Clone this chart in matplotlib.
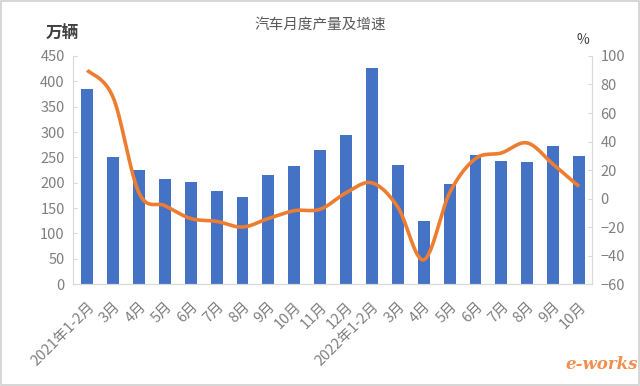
import numpy as np
import matplotlib
matplotlib.use("Agg")
import matplotlib.pyplot as plt
from matplotlib.patches import Rectangle

plt.rcParams['font.family'] = ['Noto Sans CJK SC', 'DejaVu Sans']

categories = ["2021年1-2月", "3月", "4月", "5月", "6月", "7月", "8月", "9月", "10月", "11月", "12月",
              "2022年1-2月", "3月", "4月", "5月", "6月", "7月", "8月", "9月", "10月"]
production = [384, 250, 225, 207, 201, 183, 171, 216, 232, 265, 294,
              426, 235, 125, 197, 254, 242, 240, 273, 253]
growth = [90, 71, 4, -5, -14, -16, -20, -14, -8.5, -7.5, 4,
          11, -6, -43, 4, 28, 32, 39, 24, 8.5]
left_ticks = [0, 50, 100, 150, 200, 250, 300, 350, 400, 450]
right_ticks = [-60, -40, -20, 0, 20, 40, 60, 80, 100]

BAR = "#4472C4"
LINE = "#ED7D31"
GRAY = "#7F7F7F"
AXC = "#D9D9D9"


def smooth(xs, ys, n=30):
    # Catmull-Rom style Bezier smoothing (like Excel's smoothed line)
    xs = np.asarray(xs, float)
    ys = np.asarray(ys, float)
    px = np.concatenate([[xs[0]], xs, [xs[-1]]])
    py = np.concatenate([[ys[0]], ys, [ys[-1]]])
    outx, outy = [], []
    t = np.linspace(0, 1, n)
    for i in range(1, len(px) - 2):
        p0 = np.array([px[i - 1], py[i - 1]])
        p1 = np.array([px[i], py[i]])
        p2 = np.array([px[i + 1], py[i + 1]])
        p3 = np.array([px[i + 2], py[i + 2]])
        c1 = p1 + (p2 - p0) / 6
        c2 = p2 - (p3 - p1) / 6
        b = ((1 - t) ** 3)[:, None] * p1 + (3 * (1 - t) ** 2 * t)[:, None] * c1 + \
            (3 * (1 - t) * t ** 2)[:, None] * c2 + (t ** 3)[:, None] * p2
        outx.extend(b[:, 0])
        outy.extend(b[:, 1])
    return np.array(outx), np.array(outy)


fig = plt.figure(figsize=(6.4, 3.86), dpi=100)
fig.patches.append(Rectangle((0.002, 0.003), 0.996, 0.994, transform=fig.transFigure,
                             fill=False, edgecolor="#D0D0D0", linewidth=1.2))
ax = fig.add_axes([0.114, 0.264, 0.811, 0.591])
ax2 = ax.twinx()

x = np.arange(len(categories))
ax.bar(x, production, width=0.46, color=BAR, zorder=2)
ax.set_xlim(-0.55, len(categories) - 0.5)
ax.set_ylim(0, 450)
ax.set_yticks(left_ticks)

sx, sy = smooth(x, growth)
ax2.plot(sx, sy, color=LINE, linewidth=2.6, solid_capstyle='butt', zorder=3)
ax2.set_ylim(-60, 100)
ax2.set_yticks(right_ticks)

for a in (ax, ax2):
    a.spines['top'].set_visible(False)
    a.spines['bottom'].set_color(AXC)
    a.spines['left'].set_color(AXC)
    a.spines['right'].set_color(AXC)
    a.tick_params(axis='y', direction='in', length=3, color=AXC, labelcolor=GRAY,
                  labelsize=10.5, pad=6)

ax2.spines['left'].set_visible(False)
ax.spines['right'].set_visible(False)

ax.set_xticks(x)
ax.set_xticklabels(categories, rotation=45, ha='right', rotation_mode='anchor',
                   color=GRAY, fontsize=10.5)
ax.tick_params(axis='x', length=0, pad=11)

fig.text(0.5, 0.935, "汽车月度产量及增速", ha='center', va='center', fontsize=10.5, color="#595959")
fig.text(0.097, 0.913, "万辆", ha='center', va='center', fontsize=12, color="#404040", fontweight='bold')
fig.text(0.911, 0.897, "%", ha='center', va='center', fontsize=10, color="#404040")
fig.text(0.94, 0.055, "e-works", ha='center', va='center', fontsize=12, color=LINE,
         fontstyle='italic', fontweight='bold', family='DejaVu Serif', alpha=0.85)

fig.savefig("out.png", dpi=100)
